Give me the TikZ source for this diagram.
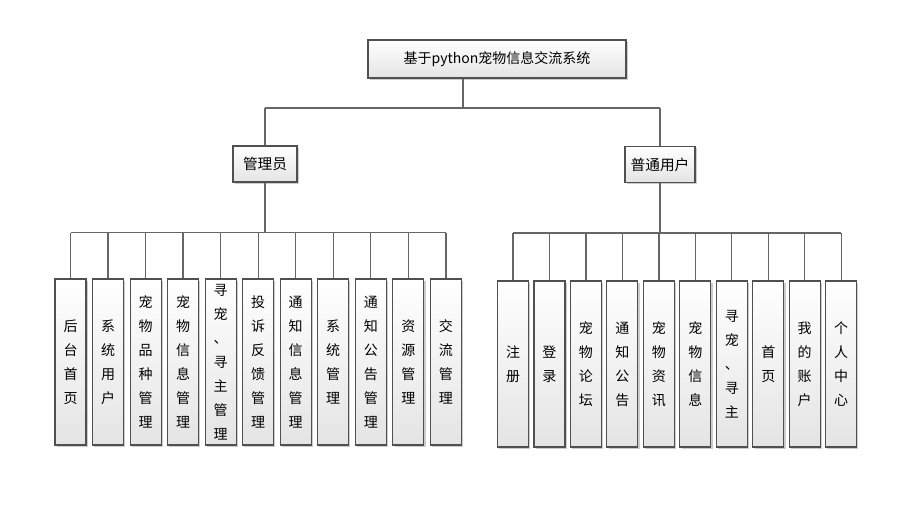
\documentclass[tikz,border=0pt]{standalone}
\usepackage{fontspec}
\newfontfamily\cjk{Noto Sans CJK SC}
\usepackage{xcolor}
\usetikzlibrary{
positioning,
shadows,
calc
}
\definecolor{boxline}{HTML}{505050}
\definecolor{boxfill}{HTML}{E4E4E4}
\definecolor{linegray}{HTML}{666666}

\begin{document}
\begin{tikzpicture}[
x=0.75pt,y=-0.75pt,
box/.style={
draw=boxline,
line width=0.8pt,
top color=white,
bottom color=boxfill,
drop shadow={shadow xshift=1.3pt,shadow yshift=-1.3pt,fill=black!40,opacity=0.5},
inner sep=0pt,
align=center,
font=\cjk\fontsize{10.5}{13}\selectfont
},
leaf/.style={
box,
minimum width=23.25pt,
minimum height=124.5pt,
font=\cjk\fontsize{10.5}{18}\selectfont
},
link/.style={draw=linegray,line width=1pt}
]
\useasboundingbox (0,0) rectangle (908,518);

% top levels
\node[box,minimum width=193.5pt,minimum height=28.5pt] (root) at (497,59) {基于python宠物信息交流系统};
\node[box,minimum width=48pt,minimum height=27pt,font=\cjk\fontsize{11}{13}\selectfont] (admin) at (265,164) {管理员};
\node[box,minimum width=52.5pt,minimum height=27pt,font=\cjk\fontsize{11}{13}\selectfont] (user) at (660,164.5) {普通用户};

% admin modules
\node[leaf] (a1) at (70.5,362) {后\\台\\首\\页};
\node[leaf,right=4.1pt of a1] (a2) {系\\统\\用\\户};
\node[leaf,right=4.1pt of a2] (a3) {宠\\物\\品\\种\\管\\理};
\node[leaf,right=4.1pt of a3] (a4) {宠\\物\\信\\息\\管\\理};
\node[leaf,right=4.1pt of a4] (a5) {寻\\宠\\、\\寻\\主\\管\\理};
\node[leaf,right=4.1pt of a5] (a6) {投\\诉\\反\\馈\\管\\理};
\node[leaf,right=4.1pt of a6] (a7) {通\\知\\信\\息\\管\\理};
\node[leaf,right=4.1pt of a7] (a8) {系\\统\\管\\理};
\node[leaf,right=4.1pt of a8] (a9) {通\\知\\公\\告\\管\\理};
\node[leaf,right=4.1pt of a9] (a10) {资\\源\\管\\理};
\node[leaf,right=4.1pt of a10] (a11) {交\\流\\管\\理};

% user modules
\node[leaf] (u1) at (513,364) {注\\册};
\node[leaf,right=3.3pt of u1] (u2) {登\\录};
\node[leaf,right=3.3pt of u2] (u3) {宠\\物\\论\\坛};
\node[leaf,right=3.3pt of u3] (u4) {通\\知\\公\\告};
\node[leaf,right=3.3pt of u4] (u5) {宠\\物\\资\\讯};
\node[leaf,right=3.3pt of u5] (u6) {宠\\物\\信\\息};
\node[leaf,right=3.3pt of u6] (u7) {寻\\宠\\、\\寻\\主};
\node[leaf,right=3.3pt of u7] (u8) {首\\页};
\node[leaf,right=3.3pt of u8] (u9) {我\\的\\账\\户};
\node[leaf,right=3.3pt of u9] (u10) {个\\人\\中\\心};

% connectors
\coordinate (tbus) at (463,108);
\path (admin.south) ++(0,50) coordinate (abus);
\path (user.south) ++(0,50) coordinate (ubus);

\draw[link] (tbus |- root.south) -- (tbus);
\draw[link] (tbus -| admin) -- (tbus -| user);
\draw[link] (tbus -| admin) -- (admin.north);
\draw[link] (tbus -| user) -- (user.north);

\draw[link] (admin.south) -- (abus);
\draw[link] (abus -| a1) -- (abus -| a11);
\foreach \i in {1,...,11}
  \draw[link] (abus -| a\i) -- (a\i.north);

\draw[link] (user.south) -- (ubus);
\draw[link] (ubus -| u1) -- (ubus -| u10);
\foreach \i in {1,...,10}
  \draw[link] (ubus -| u\i) -- (u\i.north);

\end{tikzpicture}
\end{document}
